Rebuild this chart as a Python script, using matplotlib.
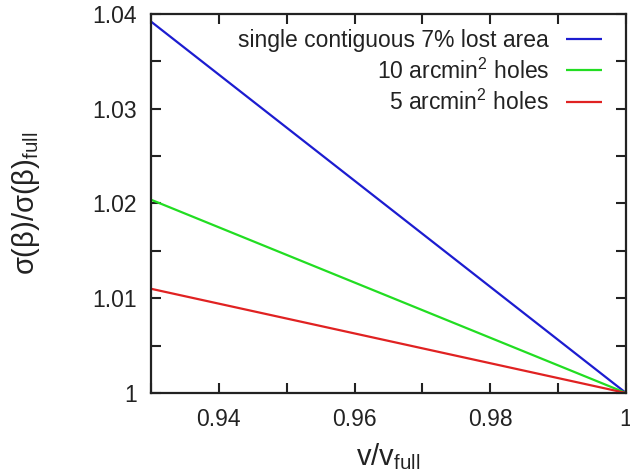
import matplotlib
matplotlib.use("Agg")
import matplotlib.pyplot as plt
from matplotlib.ticker import MultipleLocator, FixedLocator, FixedFormatter

plt.rcParams['font.family'] = ['Liberation Sans', 'DejaVu Sans']
plt.rcParams['mathtext.fontset'] = 'custom'
plt.rcParams['mathtext.rm'] = 'Liberation Sans'
plt.rcParams['mathtext.it'] = 'Liberation Sans'
plt.rcParams['mathtext.sf'] = 'Liberation Sans'

# Relative error on beta versus retained volume fraction
v_ratio = [0.93, 1.0]
contiguous = [1.0392, 1.0]
holes_10 = [1.0204, 1.0]
holes_5 = [1.0110, 1.0]

series_labels = ["single contiguous 7% lost area",
                 "10 arcmin$^2$ holes",
                 "5 arcmin$^2$ holes"]
series_colors = ["#1c1cd0", "#22dd22", "#e02222"]

x_ticks = [0.94, 0.96, 0.98, 1.0]
x_tick_labels = ["0.94", "0.96", "0.98", "1"]
y_ticks = [1.0, 1.01, 1.02, 1.03, 1.04]
y_tick_labels = ["1", "1.01", "1.02", "1.03", "1.04"]

ink = '#222222'

fig = plt.figure(figsize=(6.3, 4.71), dpi=100)
ax = fig.add_axes([0.2397, 0.1656, 0.7540, 0.8047])

for ys, lab, col in zip([contiguous, holes_10, holes_5], series_labels, series_colors):
    ax.plot(v_ratio, ys, color=col, lw=1.6, label=lab, solid_capstyle='butt')

ax.set_xlim(0.93, 1.0)
ax.set_ylim(1.0, 1.04)

ax.xaxis.set_major_locator(FixedLocator(x_ticks))
ax.xaxis.set_major_formatter(FixedFormatter(x_tick_labels))
ax.xaxis.set_minor_locator(MultipleLocator(0.01))
ax.yaxis.set_major_locator(FixedLocator(y_ticks))
ax.yaxis.set_major_formatter(FixedFormatter(y_tick_labels))
ax.yaxis.set_minor_locator(MultipleLocator(0.005))

ax.tick_params(which='both', direction='in', top=True, right=True,
               width=1.5, color=ink)
ax.tick_params(which='major', length=7, labelsize=16.5, labelcolor=ink)
ax.tick_params(axis='x', which='major', pad=11)
ax.tick_params(axis='y', which='major', pad=10)
ax.tick_params(which='minor', length=7)
for s in ax.spines.values():
    s.set_linewidth(1.6)
    s.set_color(ink)

ax.set_xlabel("v/v$_{\\rm full}$", fontsize=21, color=ink, labelpad=7)
ax.set_ylabel("σ(β)/σ(β)$_{\\rm full}$", fontsize=21, color=ink, labelpad=36)

leg = ax.legend(loc='upper right', frameon=False, markerfirst=False,
                fontsize=16.5, handlelength=1.55, handletextpad=0.75,
                labelspacing=0.28, borderaxespad=0.0,
                bbox_to_anchor=(0.968, 0.985))
for t in leg.get_texts():
    t.set_ha('right')
    t.set_color(ink)

fig.savefig("out.png", dpi=100)
